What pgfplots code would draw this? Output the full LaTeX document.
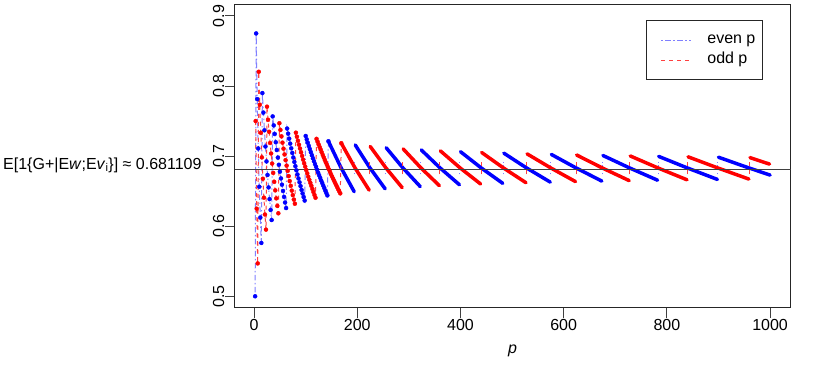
\documentclass[border=0pt]{standalone}
\usepackage{fontspec}
\setmainfont{Liberation Sans}
\usepackage{pgfplots}
\usepackage{pgfplotstable}
\pgfplotsset{compat=1.18}

\newcommand{\rfont}{\fontsize{16bp}{19bp}\selectfont}

% P(|S_p| <= sqrt(p)), even p: single points
\pgfplotstableread{
p f
2 0.5000
4 0.8750
6 0.7813
8 0.7109
10 0.6563
12 0.6123
14 0.5761
16 0.7899
18 0.7621
20 0.7368
22 0.7137
24 0.6924
26 0.6731
28 0.6553
30 0.6386
32 0.6231
34 0.6088
36 0.7566
38 0.7438
40 0.7316
42 0.7198
44 0.7087
46 0.6979
48 0.6876
50 0.6777
52 0.6682
54 0.6592
56 0.6503
58 0.6418
60 0.6338
62 0.6259
64 0.7393
66 0.7320
68 0.7249
70 0.7178
72 0.7111
74 0.7045
76 0.6980
78 0.6917
80 0.6856
82 0.6797
84 0.6738
86 0.6681
88 0.6626
90 0.6572
92 0.6518
94 0.6466
96 0.6416
98 0.6366
100 0.7287
102 0.7239
104 0.7191
106 0.7145
108 0.7101
110 0.7057
112 0.7013
114 0.6970
116 0.6928
118 0.6886
120 0.6847
122 0.6807
124 0.6766
126 0.6728
128 0.6690
130 0.6652
132 0.6616
134 0.6580
136 0.6544
138 0.6508
140 0.6473
142 0.6439
144 0.7212
}\evendots

% even p: dense runs, drawn as strokes
\pgfplotstableread{
p f
144 0.7212
168 0.6841
194 0.6492
nan nan
196 0.7159
224 0.6837
254 0.6533
nan nan
256 0.7119
288 0.6835
322 0.6565
nan nan
324 0.7088
360 0.6834
398 0.6591
nan nan
400 0.7063
440 0.6832
482 0.6611
nan nan
484 0.7042
528 0.6831
574 0.6629
nan nan
576 0.7024
624 0.6831
674 0.6643
nan nan
676 0.7009
728 0.6830
782 0.6656
nan nan
784 0.6996
840 0.6830
898 0.6667
nan nan
900 0.6984
950 0.6854
1000 0.6729
}\evenseg

\pgfplotstableread{
p f
195 0.674
195 0.692
nan nan
255 0.674
255 0.692
nan nan
323 0.674
323 0.692
nan nan
399 0.674
399 0.692
nan nan
483 0.674
483 0.692
nan nan
575 0.674
575 0.692
nan nan
675 0.674
675 0.692
nan nan
783 0.674
783 0.692
nan nan
899 0.674
899 0.692
}\eventicks

% odd p: single points
\pgfplotstableread{
p f
3 0.7500
5 0.6250
7 0.5469
9 0.8203
11 0.7734
13 0.7332
15 0.6982
17 0.6677
19 0.6407
21 0.6167
23 0.5951
25 0.7705
27 0.7518
29 0.7347
31 0.7187
33 0.7037
35 0.6894
37 0.6760
39 0.6633
41 0.6511
43 0.6397
45 0.6289
47 0.6184
49 0.7469
51 0.7373
53 0.7282
55 0.7192
57 0.7106
59 0.7023
61 0.6942
63 0.6864
65 0.6789
67 0.6715
69 0.6644
71 0.6576
73 0.6508
75 0.6443
77 0.6380
79 0.6320
81 0.7334
83 0.7276
85 0.7218
87 0.7162
89 0.7108
91 0.7055
93 0.7002
95 0.6950
97 0.6899
99 0.6851
101 0.6802
103 0.6754
105 0.6707
107 0.6662
109 0.6618
111 0.6575
113 0.6531
115 0.6488
117 0.6446
119 0.6406
121 0.7246
123 0.7206
125 0.7167
127 0.7129
129 0.7093
131 0.7055
133 0.7018
135 0.6982
137 0.6946
139 0.6911
141 0.6877
143 0.6844
145 0.6810
147 0.6776
149 0.6743
151 0.6711
153 0.6679
155 0.6648
157 0.6617
159 0.6587
161 0.6557
163 0.6526
165 0.6497
167 0.6468
169 0.7184
}\odddots

\pgfplotstableread{
p f
169 0.7184
195 0.6839
223 0.6514
nan nan
225 0.7138
255 0.6836
287 0.6550
nan nan
289 0.7102
323 0.6834
359 0.6579
nan nan
361 0.7075
399 0.6833
439 0.6602
nan nan
441 0.7052
483 0.6832
527 0.6620
nan nan
529 0.7032
575 0.6831
623 0.6636
nan nan
625 0.7016
675 0.6830
727 0.6650
nan nan
729 0.7002
783 0.6830
839 0.6662
nan nan
841 0.6990
899 0.6830
959 0.6672
nan nan
961 0.6979
979 0.6934
999 0.6886
}\oddseg

\pgfplotstableread{
p f
224 0.674
224 0.692
nan nan
288 0.674
288 0.692
nan nan
360 0.674
360 0.692
nan nan
440 0.674
440 0.692
nan nan
528 0.674
528 0.692
nan nan
624 0.674
624 0.692
nan nan
728 0.674
728 0.692
nan nan
840 0.674
840 0.692
nan nan
960 0.674
960 0.692
}\oddticks

\tikzset{
  evenline/.style={blue!50, line width=1bp, dash pattern=on 1.3bp off 2.7bp on 5.3bp off 2.7bp},
  oddline/.style={red!75, line width=1bp, dash pattern=on 4bp off 4bp},
}

\begin{document}
\begin{tikzpicture}
\path[use as bounding box] (-234.5bp,-59.5bp) rectangle (595.5bp,307.5bp);
\begin{axis}[
    scale only axis,
    width=556.2bp, height=302.8bp,
    xmin=-38, xmax=1040,
    ymin=0.484, ymax=0.916,
    axis line style={black!85, line width=1bp},
    tick pos=left,
    tick align=outside,
    major tick length=10bp,
    tick style={black!75, line width=1bp},
    xtick={0,200,400,600,800,1000},
    ytick={0.5,0.6,0.7,0.8,0.9},
    ticklabel style={font=\rfont, inner sep=0pt},
    /pgf/number format/assume math mode=true,
    /pgf/number format/1000 sep={},
    yticklabel style={rotate=90, anchor=south,
        /pgf/number format/fixed, /pgf/number format/precision=1,
        /pgf/number format/fixed zerofill},
    xticklabel style={anchor=north, yshift=-2bp},
    xlabel={\textit{p}},
    xlabel style={font=\rfont, at={(axis description cs:0.5,0)}, anchor=base, yshift=-46bp},
    legend style={at={(0.950,0.9495)}, anchor=north east,
        draw=black!85, line width=1bp, fill=white,
        inner xsep=7bp, inner ysep=12.5bp, row sep=6bp,
        font=\rfont,
        nodes={inner sep=0pt, text height=11bp, text depth=3bp},
        /tikz/every odd column/.append style={column sep=15.7bp}},
    legend cell align=left,
    legend image code/.code={\path (0bp,0bp); \draw[#1, line width=0.9bp] (7bp,0bp) -- (37bp,0bp);},
]
\addplot[evenline] table {\evendots};
\addlegendentry{even p}
\addplot[only marks, mark=*, mark size=2bp, blue, forget plot] table {\evendots};
\addplot[blue, line width=3.5bp, line cap=round, unbounded coords=jump, forget plot] table {\evenseg};
\addplot[evenline, unbounded coords=jump, forget plot] table {\eventicks};

\addplot[oddline] table {\odddots};
\addlegendentry{odd p}
\addplot[only marks, mark=*, mark size=2bp, red, forget plot] table {\odddots};
\addplot[red, line width=3.5bp, line cap=round, unbounded coords=jump, forget plot] table {\oddseg};
\addplot[oddline, unbounded coords=jump, forget plot] table {\oddticks};

\addplot[black!75, line width=1.3bp, forget plot] coordinates {(-38,0.681109) (1040,0.681109)};
\coordinate (hl) at (axis cs:-38,0.681109);
\end{axis}
\node[anchor=base east, inner sep=0pt, font=\rfont, xshift=-32.8bp] at (hl)
  {E[1\{G+|E\textit{w};E\textit{v}\textsubscript{i}\}] ≈ 0.681109};
\end{tikzpicture}
\end{document}
